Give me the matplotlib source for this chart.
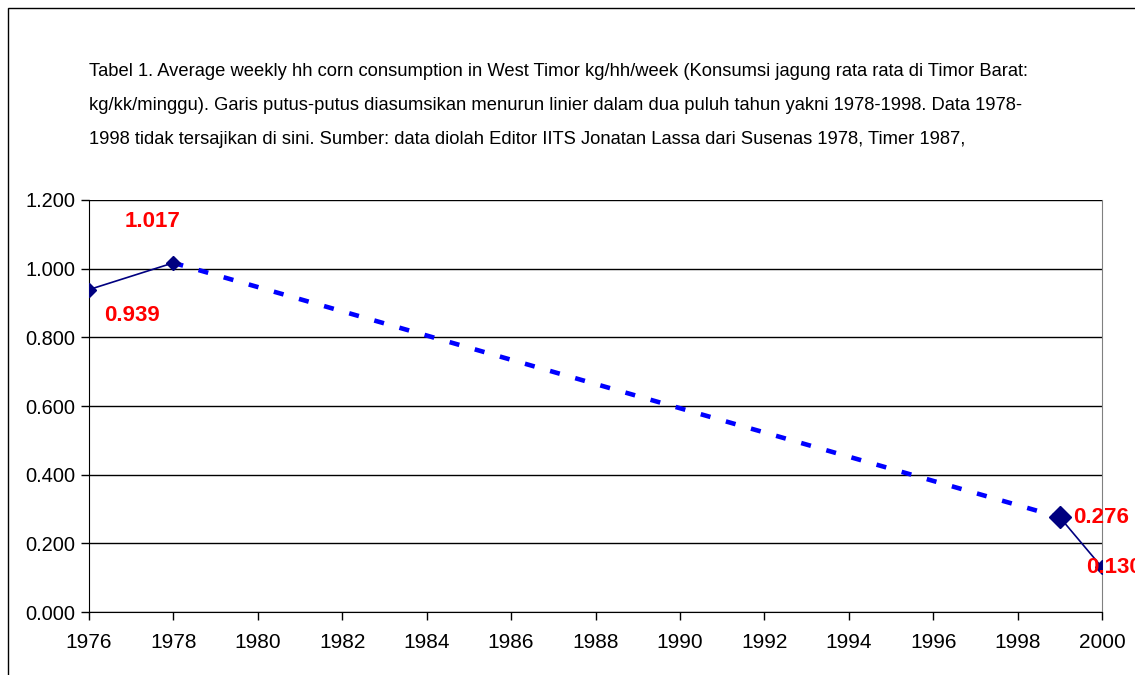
import matplotlib
matplotlib.use("Agg")
import matplotlib.pyplot as plt
from matplotlib.patches import Rectangle

# observed points
years = [1976, 1978, 1999, 2000]
values = [0.939, 1.017, 0.276, 0.130]
labels = ["0.939", "1.017", "0.276", "0.130"]
# assumed linear decline (dashed)
dash_years = [1978, 1999]
dash_values = [1.017, 0.276]

TITLE = ("Tabel 1. Average weekly hh corn consumption in West Timor kg/hh/week (Konsumsi jagung rata rata di Timor Barat:\n"
         "kg/kk/minggu). Garis putus-putus diasumsikan menurun linier dalam dua puluh tahun yakni 1978-1998. Data 1978-\n"
         "1998 tidak tersajikan di sini. Sumber: data diolah Editor IITS Jonatan Lassa dari Susenas 1978, Timer 1987,")

plt.rcParams["font.family"] = ["Liberation Sans", "DejaVu Sans"]
NAVY = "#000080"
RED = "#FF0000"

fig = plt.figure(figsize=(11.35, 6.75), dpi=100)
ax = fig.add_axes([89 / 1135, 63 / 675, (1102 - 89) / 1135, (612 - 200) / 675])

ax.plot(dash_years, dash_values, color="#0000FF", lw=3.3, dashes=(2.2, 3.5),
        solid_capstyle="butt", dash_capstyle="butt", zorder=2)
ax.plot(years[:2], values[:2], color=NAVY, lw=1.2, marker="D", ms=7, zorder=3)
ax.plot(years[2:], values[2:], color=NAVY, lw=1.2, marker="D", ms=7, zorder=3)
ax.plot([years[2]], [values[2]], color=NAVY, marker="D", ms=11.5, ls="none", zorder=4)

# label offsets in pixels (dx, dy) and horizontal alignment
offsets = [(43, -26), (-21, 41), (13, 0), (-16, 0)]
aligns = ["center", "center", "left", "left"]
for x, y, t, (dx, dy), ha in zip(years, values, labels, offsets, aligns):
    ax.annotate(t, (x, y), xytext=(dx, dy), textcoords="offset pixels", ha=ha, va="center",
                color=RED, fontsize=16, fontweight="bold", annotation_clip=False, zorder=5)

ax.set_xlim(1976, 2000)
ax.set_ylim(0, 1.2)
ax.set_xticks(range(1976, 2001, 2))
yt = [0, 0.2, 0.4, 0.6, 0.8, 1.0, 1.2]
ax.set_yticks(yt)
ax.set_yticklabels([f"{v:.3f}" for v in yt])
ax.tick_params(axis="both", direction="out", length=6, width=1, color="black")
ax.tick_params(axis="x", pad=9, labelsize=15)
ax.tick_params(axis="y", pad=4, labelsize=14.4)
ax.yaxis.grid(True, color="black", lw=1.0)
ax.set_axisbelow(True)
ax.spines["top"].set_visible(False)
ax.spines["right"].set_color("#808080")
ax.spines["left"].set_color("black")
ax.spines["bottom"].set_color("black")

fig.text(89 / 1135, 1 - 95 / 675, TITLE, ha="left", va="center_baseline", fontsize=13.2,
         linespacing=2.3)

fig.patches.append(Rectangle((8 / 1135, -0.05), 1.2, 1.05 - 8 / 675, transform=fig.transFigure,
                             fill=False, edgecolor="black", lw=1, clip_on=False))

fig.savefig("out.png", dpi=100)
